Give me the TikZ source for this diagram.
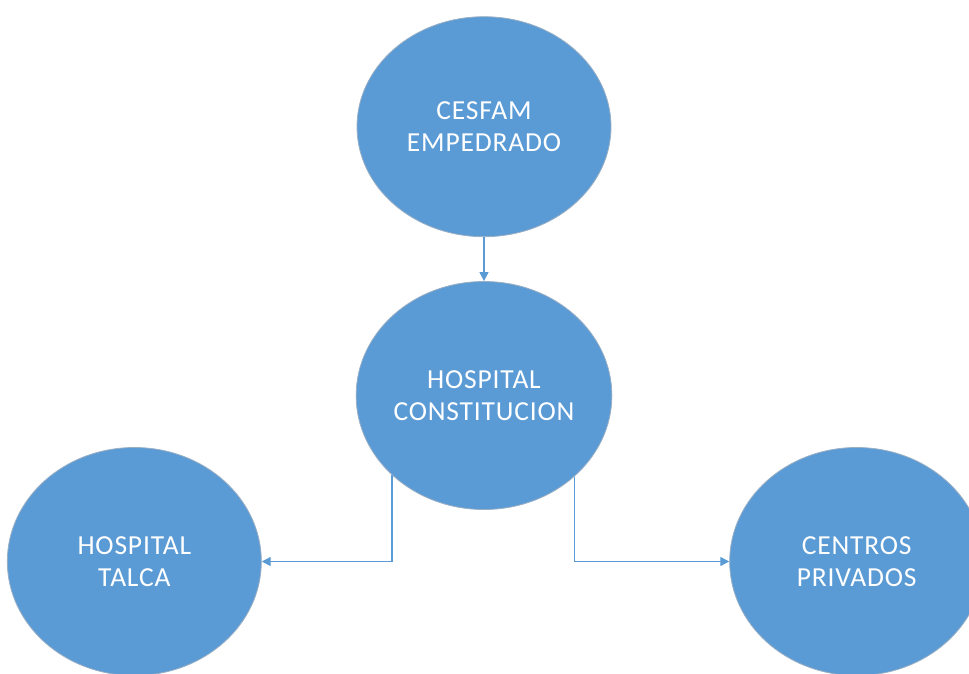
\documentclass[tikz,border=0pt]{standalone}
\usepackage{fontspec}
\setmainfont{Carlito}[LetterSpace=3]
\usepackage{xcolor}
\usepackage{tikz}
\usetikzlibrary{positioning,shapes.geometric,arrows.meta}

\definecolor{officeblue}{HTML}{5B9BD5}
\definecolor{rimgray}{HTML}{9AAFC4}

\tikzset{
  center/.style={ellipse, minimum width=254pt, minimum height=228pt, inner sep=0pt, align=center, fill=officeblue, draw=rimgray, line width=0.8pt, text=white, font=\fontsize{27.5pt}{32pt}\selectfont},
  link/.style={draw=officeblue, line width=1.4pt, -{Triangle[width=9pt,length=9pt]}}
}

\begin{document}
\begin{tikzpicture}[x=1pt,y=-1pt]
\useasboundingbox (0,0) rectangle (969,673);

\node (hcons) [center] at (484,395.5) {HOSPITAL\\CONSTITUCION};
\node (cesfam) [center, minimum height=220pt, above=44pt of hcons] {CESFAM\\EMPEDRADO};
\node (talca) [center, left=94pt of hcons, yshift=-166pt] {HOSPITAL\\TALCA};
\node (privados) [center, right=117pt of hcons, yshift=-166pt] {CENTROS\\PRIVADOS};

\draw[link] (cesfam) -- (hcons);
\draw[link] (hcons.221.6) |- (talca.east);
\draw[link] (hcons.318.4) |- (privados.west);

\end{tikzpicture}
\end{document}
